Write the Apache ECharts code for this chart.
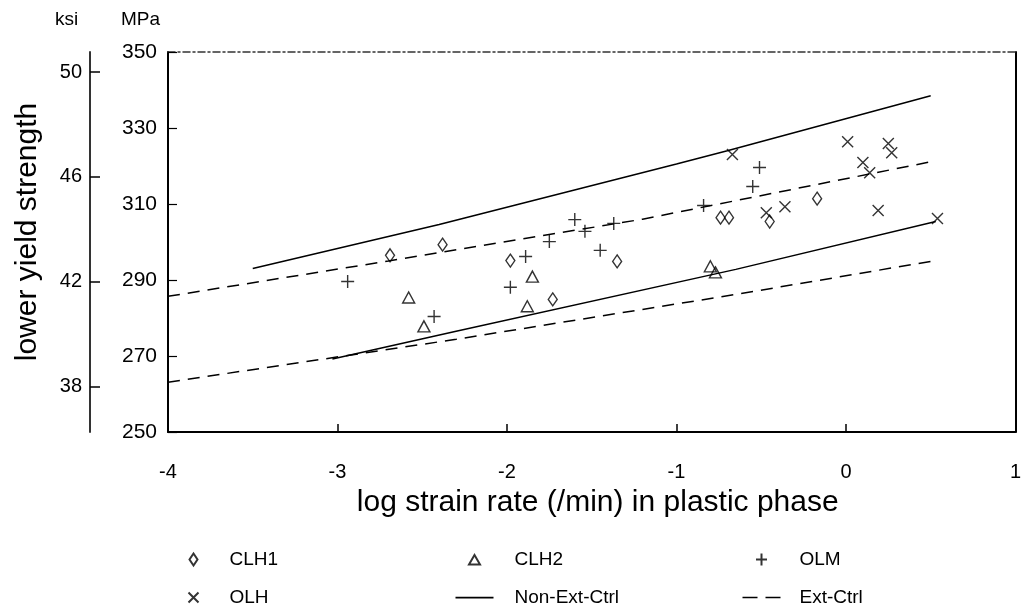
<!DOCTYPE html>
<html>
<head>
<meta charset="utf-8">
<script src="https://cdn.jsdelivr.net/npm/echarts@6/dist/echarts.min.js"></script>
<style>html,body{margin:0;padding:0;background:#fff}#c{width:1024px;height:612px}</style>
</head>
<body>
<div id="c"></div>
<script>
// ---- data ----
const xTicks = [-4, -3, -2, -1, 0, 1];
const mpaTicks = [250, 270, 290, 310, 330, 350];
const ksiTicks = [38, 42, 46, 50];

const clh1 = [[-2.69,296.5],[-2.38,299.3],[-1.98,295.1],[-1.73,284.9],[-1.35,294.9],[-0.74,306.4],[-0.69,306.4],[-0.45,305.4],[-0.17,311.4]];
const clh2 = [[-2.58,285.4],[-2.49,277.8],[-1.85,290.9],[-1.88,283.1],[-0.80,293.6],[-0.77,292.0]];
const olm = [[-2.94,289.6],[-2.43,280.4],[-1.89,296.2],[-1.98,288.1],[-1.75,300.1],[-1.60,305.9],[-1.54,302.8],[-1.37,304.9],[-1.45,297.8],[-0.84,309.6],[-0.51,319.6],[-0.55,314.6]];
const olh = [[-0.67,323.0],[0.01,326.4],[0.25,325.9],[0.27,323.5],[0.10,320.9],[0.14,318.2],[-0.47,307.7],[-0.36,309.3],[0.19,308.3],[0.54,306.2]];

const nonExtUpper = [[-3.5,293.0],[-2.4,304.6],[-1.0,320.5],[-0.7,324.0],[0.5,338.5]];
const nonExtLower = [[-3.03,269.2],[-2.3,276.5],[-0.65,292.8],[0.53,305.4]];
const extUpper = [[-4,285.7],[-2.7,295.0],[-1.2,306.0],[0.5,321.1]];
const extLower = [[-4,263.1],[-2.3,274.4],[-0.65,286.2],[0.5,294.9]];

const MPA_PER_KSI = 6.894757;
const yMin = mpaTicks[0], yMax = mpaTicks[mpaTicks.length - 1];

// ---- chart ----
const FONT = 'Liberation Sans';
const chart = echarts.init(document.getElementById('c'), null, {renderer: 'canvas'});
const plusPath = 'path://M0,5 L10,5 M5,0 L5,10';
const crossPath = 'path://M0,0 L10,10 M10,0 L0,10';
const hollow = {color: 'none', borderColor: '#000', borderWidth: 1.4};

// legend icons (40x13 box; the leading moves fix the box so shapes keep their proportions)
const BOX = 'path://M0,0 M40,13 ';
const lgDiamond = BOX + 'M20,0.5 L24,6.5 L20,12.5 L16,6.5 Z';
const lgTriangle = BOX + 'M20,2 L25.5,11.5 L14.5,11.5 Z';
const lgPlus = BOX + 'M14.5,6.5 L25.5,6.5 M20,0.5 L20,12.5';
const lgCross = BOX + 'M15,1.5 L25,11.5 M25,1.5 L15,11.5';
const lgSolid = BOX + 'M1,5.8 L39,5.8 L39,7.4 L1,7.4 Z';
const lgDashed = BOX + 'M1,5.8 L16,5.8 L16,7.2 L1,7.2 Z M24,5.8 L39,5.8 L39,7.2 L24,7.2 Z';

function scatter(name, data, symbol, size) {
  return {type: 'scatter', name, data, symbol, symbolSize: size,
    itemStyle: Object.assign({}, hollow), emphasis: {disabled: true}, z: 3};
}
function line(name, data, dashed) {
  return {type: 'line', name, data, symbol: 'none', smooth: false,
    lineStyle: {color: '#000', width: 1.5, type: dashed ? [12, 8] : 'solid'},
    itemStyle: {color: '#000'}, emphasis: {disabled: true}, z: 2};
}
const legendBase = {orient: 'vertical', itemWidth: 40, itemHeight: 13, itemGap: 19,
  padding: 0, selectedMode: false};
function legendText(pad) {
  return {fontFamily: FONT, fontSize: 19, color: '#000', padding: [0, 0, 0, pad]};
}

chart.setOption({
  animation: false,
  backgroundColor: '#fff',
  grid: {left: 168, right: 4, top: 52, bottom: 180, containLabel: false, show: false},
  xAxis: [{
    type: 'value', min: xTicks[0], max: xTicks[xTicks.length - 1], interval: 1,
    position: 'bottom',
    axisLine: {show: true, onZero: false, lineStyle: {color: '#000', width: 2}},
    axisTick: {show: true, inside: true, length: 8, lineStyle: {color: '#000', width: 1.5}},
    axisLabel: {fontFamily: FONT, fontSize: 20, color: '#000', margin: 30},
    splitLine: {show: false},
    name: 'log strain rate (/min) in plastic phase', nameLocation: 'middle', nameGap: 56,
    nameTextStyle: {fontFamily: FONT, fontSize: 30, color: '#000', padding: [0, 0, 0, 12]}
  }, {
    type: 'value', min: xTicks[0], max: xTicks[xTicks.length - 1], interval: 1,
    position: 'top',
    axisLine: {show: true, onZero: false, lineStyle: {color: '#333', width: 1.5, type: [7, 3, 2, 3]}},
    axisTick: {show: false}, axisLabel: {show: false}, splitLine: {show: false}
  }],
  yAxis: [{
    type: 'value', min: yMin, max: yMax, interval: 20, position: 'left',
    axisLine: {show: true, onZero: false, lineStyle: {color: '#000', width: 2}},
    axisTick: {show: true, inside: true, length: 9, lineStyle: {color: '#000', width: 1.2}},
    axisLabel: {fontFamily: FONT, fontSize: 21, color: '#000', margin: 11},
    splitLine: {show: false}
  }, {
    type: 'value', min: yMin / MPA_PER_KSI, max: yMax / MPA_PER_KSI, position: 'left', offset: 78,
    axisLine: {show: true, onZero: false, lineStyle: {color: '#333', width: 2}},
    axisTick: {show: true, inside: true, length: 10, customValues: ksiTicks, lineStyle: {color: '#000', width: 1.5}},
    axisLabel: {fontFamily: FONT, fontSize: 20, color: '#000', margin: 8, customValues: ksiTicks},
    splitLine: {show: false}
  }, {
    type: 'value', min: yMin, max: yMax, position: 'right',
    axisLine: {show: true, onZero: false, lineStyle: {color: '#000', width: 2}},
    axisTick: {show: false}, axisLabel: {show: false}, splitLine: {show: false}
  }],
  legend: [
    Object.assign({}, legendBase, {left: 171, top: 550, textStyle: legendText(11),
      data: [{name: 'CLH1', icon: lgDiamond}, {name: 'OLH', icon: lgCross}]}),
    Object.assign({}, legendBase, {left: 452, top: 550, textStyle: legendText(15),
      data: [{name: 'CLH2', icon: lgTriangle}, {name: 'Non-Ext-Ctrl', icon: lgSolid}]}),
    Object.assign({}, legendBase, {left: 739, top: 550, textStyle: legendText(13),
      data: [{name: 'OLM', icon: lgPlus}, {name: 'Ext-Ctrl', icon: lgDashed}]})
  ],
  graphic: [
    {type: 'text', left: 55, top: 10, style: {text: 'ksi', fontFamily: FONT, fontSize: 19, fill: '#000'}},
    {type: 'text', left: 121, top: 10, style: {text: 'MPa', fontFamily: FONT, fontSize: 19, fill: '#000'}},
    {type: 'text', x: 28, y: 232, rotation: Math.PI / 2,
      style: {text: 'lower yield strength', fontFamily: FONT, fontSize: 30, fill: '#000',
        align: 'center', verticalAlign: 'middle'}}
  ],
  series: [
    scatter('CLH1', clh1, 'diamond', [9, 13]),
    scatter('CLH2', clh2, 'triangle', [12, 11]),
    scatter('OLM', olm, plusPath, 13),
    scatter('OLH', olh, crossPath, 11),
    line('Non-Ext-Ctrl', nonExtUpper, false),
    line('Non-Ext-Ctrl', nonExtLower, false),
    line('Ext-Ctrl', extUpper, true),
    line('Ext-Ctrl', extLower, true)
  ]
});
</script>
</body>
</html>
